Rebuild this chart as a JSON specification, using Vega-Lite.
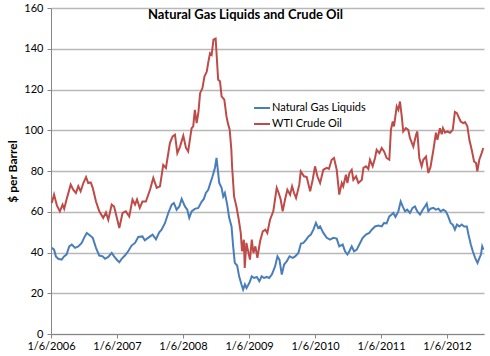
{
  "$schema": "https://vega.github.io/schema/vega-lite/v6.json",
  "width": 433,
  "height": 326,
  "autosize": "none",
  "padding": {"left": 51, "top": 8, "right": 6, "bottom": 22},
  "background": "white",
  "title": {
    "text": "Natural Gas Liquids and Crude Oil",
    "font": "Lato",
    "fontSize": 13,
    "fontWeight": "bold",
    "color": "#000000",
    "anchor": "middle",
    "dx": -22,
    "dy": 17,
    "offset": -16,
    "baseline": "bottom"
  },
  "config": {
    "view": {"stroke": null},
    "font": "Lato"
  },
  "data": {
    "values": [
      {"date": "2006-01-10", "series": "Natural Gas Liquids", "price": 42.3},
      {"date": "2006-01-23", "series": "Natural Gas Liquids", "price": 41.4},
      {"date": "2006-02-02", "series": "Natural Gas Liquids", "price": 38.1},
      {"date": "2006-02-15", "series": "Natural Gas Liquids", "price": 36.9},
      {"date": "2006-03-06", "series": "Natural Gas Liquids", "price": 36.5},
      {"date": "2006-03-19", "series": "Natural Gas Liquids", "price": 38.1},
      {"date": "2006-04-02", "series": "Natural Gas Liquids", "price": 39.0},
      {"date": "2006-04-17", "series": "Natural Gas Liquids", "price": 43.0},
      {"date": "2006-05-01", "series": "Natural Gas Liquids", "price": 43.9},
      {"date": "2006-05-19", "series": "Natural Gas Liquids", "price": 42.3},
      {"date": "2006-06-06", "series": "Natural Gas Liquids", "price": 43.0},
      {"date": "2006-06-25", "series": "Natural Gas Liquids", "price": 44.7},
      {"date": "2006-07-08", "series": "Natural Gas Liquids", "price": 47.2},
      {"date": "2006-07-23", "series": "Natural Gas Liquids", "price": 49.6},
      {"date": "2006-08-10", "series": "Natural Gas Liquids", "price": 48.3},
      {"date": "2006-08-25", "series": "Natural Gas Liquids", "price": 47.2},
      {"date": "2006-09-12", "series": "Natural Gas Liquids", "price": 42.3},
      {"date": "2006-09-30", "series": "Natural Gas Liquids", "price": 38.5},
      {"date": "2006-10-19", "series": "Natural Gas Liquids", "price": 38.1},
      {"date": "2006-11-01", "series": "Natural Gas Liquids", "price": 36.9},
      {"date": "2006-11-19", "series": "Natural Gas Liquids", "price": 37.8},
      {"date": "2006-12-08", "series": "Natural Gas Liquids", "price": 39.8},
      {"date": "2006-12-21", "series": "Natural Gas Liquids", "price": 38.1},
      {"date": "2007-01-08", "series": "Natural Gas Liquids", "price": 36.2},
      {"date": "2007-01-19", "series": "Natural Gas Liquids", "price": 35.2},
      {"date": "2007-02-01", "series": "Natural Gas Liquids", "price": 36.9},
      {"date": "2007-02-19", "series": "Natural Gas Liquids", "price": 38.5},
      {"date": "2007-03-09", "series": "Natural Gas Liquids", "price": 40.6},
      {"date": "2007-03-28", "series": "Natural Gas Liquids", "price": 43.4},
      {"date": "2007-04-16", "series": "Natural Gas Liquids", "price": 44.7},
      {"date": "2007-05-04", "series": "Natural Gas Liquids", "price": 47.6},
      {"date": "2007-05-27", "series": "Natural Gas Liquids", "price": 47.9},
      {"date": "2007-06-09", "series": "Natural Gas Liquids", "price": 46.0},
      {"date": "2007-06-27", "series": "Natural Gas Liquids", "price": 47.2},
      {"date": "2007-07-22", "series": "Natural Gas Liquids", "price": 48.8},
      {"date": "2007-08-10", "series": "Natural Gas Liquids", "price": 46.5},
      {"date": "2007-08-28", "series": "Natural Gas Liquids", "price": 49.9},
      {"date": "2007-09-10", "series": "Natural Gas Liquids", "price": 51.2},
      {"date": "2007-09-29", "series": "Natural Gas Liquids", "price": 54.5},
      {"date": "2007-10-17", "series": "Natural Gas Liquids", "price": 59.4},
      {"date": "2007-11-05", "series": "Natural Gas Liquids", "price": 63.5},
      {"date": "2007-11-17", "series": "Natural Gas Liquids", "price": 64.3},
      {"date": "2007-12-02", "series": "Natural Gas Liquids", "price": 61.0},
      {"date": "2007-12-17", "series": "Natural Gas Liquids", "price": 62.6},
      {"date": "2007-12-30", "series": "Natural Gas Liquids", "price": 66.3},
      {"date": "2008-01-17", "series": "Natural Gas Liquids", "price": 62.6},
      {"date": "2008-01-30", "series": "Natural Gas Liquids", "price": 61.0},
      {"date": "2008-02-10", "series": "Natural Gas Liquids", "price": 57.0},
      {"date": "2008-02-23", "series": "Natural Gas Liquids", "price": 60.2},
      {"date": "2008-03-12", "series": "Natural Gas Liquids", "price": 61.4},
      {"date": "2008-03-31", "series": "Natural Gas Liquids", "price": 61.9},
      {"date": "2008-04-19", "series": "Natural Gas Liquids", "price": 65.0},
      {"date": "2008-05-01", "series": "Natural Gas Liquids", "price": 66.3},
      {"date": "2008-05-12", "series": "Natural Gas Liquids", "price": 69.2},
      {"date": "2008-05-25", "series": "Natural Gas Liquids", "price": 70.8},
      {"date": "2008-06-03", "series": "Natural Gas Liquids", "price": 73.3},
      {"date": "2008-06-18", "series": "Natural Gas Liquids", "price": 77.4},
      {"date": "2008-07-01", "series": "Natural Gas Liquids", "price": 81.5},
      {"date": "2008-07-10", "series": "Natural Gas Liquids", "price": 86.4},
      {"date": "2008-07-25", "series": "Natural Gas Liquids", "price": 74.1},
      {"date": "2008-08-07", "series": "Natural Gas Liquids", "price": 71.7},
      {"date": "2008-08-16", "series": "Natural Gas Liquids", "price": 67.5},
      {"date": "2008-08-25", "series": "Natural Gas Liquids", "price": 69.2},
      {"date": "2008-09-07", "series": "Natural Gas Liquids", "price": 63.5},
      {"date": "2008-09-18", "series": "Natural Gas Liquids", "price": 57.0},
      {"date": "2008-10-01", "series": "Natural Gas Liquids", "price": 52.8},
      {"date": "2008-10-10", "series": "Natural Gas Liquids", "price": 43.0},
      {"date": "2008-10-19", "series": "Natural Gas Liquids", "price": 34.9},
      {"date": "2008-11-01", "series": "Natural Gas Liquids", "price": 33.6},
      {"date": "2008-11-12", "series": "Natural Gas Liquids", "price": 28.3},
      {"date": "2008-11-25", "series": "Natural Gas Liquids", "price": 24.3},
      {"date": "2008-12-04", "series": "Natural Gas Liquids", "price": 21.8},
      {"date": "2008-12-14", "series": "Natural Gas Liquids", "price": 24.3},
      {"date": "2008-12-23", "series": "Natural Gas Liquids", "price": 22.6},
      {"date": "2009-01-08", "series": "Natural Gas Liquids", "price": 25.1},
      {"date": "2009-01-21", "series": "Natural Gas Liquids", "price": 28.3},
      {"date": "2009-02-03", "series": "Natural Gas Liquids", "price": 27.5},
      {"date": "2009-02-18", "series": "Natural Gas Liquids", "price": 28.0},
      {"date": "2009-03-04", "series": "Natural Gas Liquids", "price": 25.9},
      {"date": "2009-03-17", "series": "Natural Gas Liquids", "price": 28.3},
      {"date": "2009-03-30", "series": "Natural Gas Liquids", "price": 27.5},
      {"date": "2009-04-14", "series": "Natural Gas Liquids", "price": 28.0},
      {"date": "2009-04-27", "series": "Natural Gas Liquids", "price": 27.5},
      {"date": "2009-05-12", "series": "Natural Gas Liquids", "price": 29.2},
      {"date": "2009-05-30", "series": "Natural Gas Liquids", "price": 33.2},
      {"date": "2009-06-12", "series": "Natural Gas Liquids", "price": 38.1},
      {"date": "2009-06-23", "series": "Natural Gas Liquids", "price": 36.5},
      {"date": "2009-07-06", "series": "Natural Gas Liquids", "price": 29.2},
      {"date": "2009-07-19", "series": "Natural Gas Liquids", "price": 34.1},
      {"date": "2009-08-03", "series": "Natural Gas Liquids", "price": 35.7},
      {"date": "2009-08-18", "series": "Natural Gas Liquids", "price": 38.1},
      {"date": "2009-09-05", "series": "Natural Gas Liquids", "price": 37.4},
      {"date": "2009-09-18", "series": "Natural Gas Liquids", "price": 38.1},
      {"date": "2009-10-06", "series": "Natural Gas Liquids", "price": 39.8},
      {"date": "2009-10-20", "series": "Natural Gas Liquids", "price": 44.4},
      {"date": "2009-11-03", "series": "Natural Gas Liquids", "price": 44.7},
      {"date": "2009-11-18", "series": "Natural Gas Liquids", "price": 46.3},
      {"date": "2009-12-01", "series": "Natural Gas Liquids", "price": 47.9},
      {"date": "2009-12-14", "series": "Natural Gas Liquids", "price": 48.8},
      {"date": "2009-12-28", "series": "Natural Gas Liquids", "price": 51.2},
      {"date": "2010-01-11", "series": "Natural Gas Liquids", "price": 54.5},
      {"date": "2010-01-24", "series": "Natural Gas Liquids", "price": 52.0},
      {"date": "2010-02-03", "series": "Natural Gas Liquids", "price": 52.8},
      {"date": "2010-02-21", "series": "Natural Gas Liquids", "price": 49.6},
      {"date": "2010-03-12", "series": "Natural Gas Liquids", "price": 47.2},
      {"date": "2010-03-30", "series": "Natural Gas Liquids", "price": 46.3},
      {"date": "2010-04-17", "series": "Natural Gas Liquids", "price": 47.2},
      {"date": "2010-05-06", "series": "Natural Gas Liquids", "price": 46.8},
      {"date": "2010-05-20", "series": "Natural Gas Liquids", "price": 43.0},
      {"date": "2010-06-08", "series": "Natural Gas Liquids", "price": 43.9},
      {"date": "2010-06-21", "series": "Natural Gas Liquids", "price": 40.6},
      {"date": "2010-07-04", "series": "Natural Gas Liquids", "price": 39.0},
      {"date": "2010-07-15", "series": "Natural Gas Liquids", "price": 40.6},
      {"date": "2010-07-28", "series": "Natural Gas Liquids", "price": 43.0},
      {"date": "2010-08-10", "series": "Natural Gas Liquids", "price": 40.6},
      {"date": "2010-08-25", "series": "Natural Gas Liquids", "price": 41.4},
      {"date": "2010-09-08", "series": "Natural Gas Liquids", "price": 43.9},
      {"date": "2010-09-27", "series": "Natural Gas Liquids", "price": 47.2},
      {"date": "2010-10-15", "series": "Natural Gas Liquids", "price": 48.8},
      {"date": "2010-11-02", "series": "Natural Gas Liquids", "price": 49.6},
      {"date": "2010-11-16", "series": "Natural Gas Liquids", "price": 51.2},
      {"date": "2010-12-04", "series": "Natural Gas Liquids", "price": 52.8},
      {"date": "2010-12-22", "series": "Natural Gas Liquids", "price": 53.2},
      {"date": "2011-01-10", "series": "Natural Gas Liquids", "price": 52.8},
      {"date": "2011-01-23", "series": "Natural Gas Liquids", "price": 54.5},
      {"date": "2011-02-06", "series": "Natural Gas Liquids", "price": 54.3},
      {"date": "2011-02-21", "series": "Natural Gas Liquids", "price": 57.7},
      {"date": "2011-03-06", "series": "Natural Gas Liquids", "price": 58.6},
      {"date": "2011-03-15", "series": "Natural Gas Liquids", "price": 59.4},
      {"date": "2011-03-27", "series": "Natural Gas Liquids", "price": 57.5},
      {"date": "2011-04-12", "series": "Natural Gas Liquids", "price": 60.2},
      {"date": "2011-04-25", "series": "Natural Gas Liquids", "price": 65.0},
      {"date": "2011-05-06", "series": "Natural Gas Liquids", "price": 62.6},
      {"date": "2011-05-19", "series": "Natural Gas Liquids", "price": 60.2},
      {"date": "2011-05-31", "series": "Natural Gas Liquids", "price": 61.0},
      {"date": "2011-06-15", "series": "Natural Gas Liquids", "price": 59.4},
      {"date": "2011-06-30", "series": "Natural Gas Liquids", "price": 61.9},
      {"date": "2011-07-13", "series": "Natural Gas Liquids", "price": 62.6},
      {"date": "2011-07-26", "series": "Natural Gas Liquids", "price": 60.2},
      {"date": "2011-08-10", "series": "Natural Gas Liquids", "price": 58.6},
      {"date": "2011-08-25", "series": "Natural Gas Liquids", "price": 61.0},
      {"date": "2011-09-06", "series": "Natural Gas Liquids", "price": 62.6},
      {"date": "2011-09-16", "series": "Natural Gas Liquids", "price": 64.0},
      {"date": "2011-09-25", "series": "Natural Gas Liquids", "price": 60.2},
      {"date": "2011-10-07", "series": "Natural Gas Liquids", "price": 61.5},
      {"date": "2011-10-23", "series": "Natural Gas Liquids", "price": 61.9},
      {"date": "2011-11-06", "series": "Natural Gas Liquids", "price": 61.0},
      {"date": "2011-11-20", "series": "Natural Gas Liquids", "price": 61.5},
      {"date": "2011-12-02", "series": "Natural Gas Liquids", "price": 60.2},
      {"date": "2011-12-17", "series": "Natural Gas Liquids", "price": 61.0},
      {"date": "2011-12-31", "series": "Natural Gas Liquids", "price": 60.2},
      {"date": "2012-01-13", "series": "Natural Gas Liquids", "price": 57.7},
      {"date": "2012-01-26", "series": "Natural Gas Liquids", "price": 54.5},
      {"date": "2012-02-07", "series": "Natural Gas Liquids", "price": 53.7},
      {"date": "2012-02-19", "series": "Natural Gas Liquids", "price": 51.2},
      {"date": "2012-03-01", "series": "Natural Gas Liquids", "price": 53.7},
      {"date": "2012-03-15", "series": "Natural Gas Liquids", "price": 52.8},
      {"date": "2012-03-28", "series": "Natural Gas Liquids", "price": 53.7},
      {"date": "2012-04-10", "series": "Natural Gas Liquids", "price": 52.8},
      {"date": "2012-04-25", "series": "Natural Gas Liquids", "price": 52.8},
      {"date": "2012-05-04", "series": "Natural Gas Liquids", "price": 48.8},
      {"date": "2012-05-17", "series": "Natural Gas Liquids", "price": 43.9},
      {"date": "2012-05-28", "series": "Natural Gas Liquids", "price": 40.6},
      {"date": "2012-06-10", "series": "Natural Gas Liquids", "price": 37.4},
      {"date": "2012-06-23", "series": "Natural Gas Liquids", "price": 34.9},
      {"date": "2012-07-04", "series": "Natural Gas Liquids", "price": 37.4},
      {"date": "2012-07-12", "series": "Natural Gas Liquids", "price": 39.0},
      {"date": "2012-07-19", "series": "Natural Gas Liquids", "price": 43.0},
      {"date": "2012-07-26", "series": "Natural Gas Liquids", "price": 41.4},
      {"date": "2006-01-10", "series": "WTI Crude Oil", "price": 64.3},
      {"date": "2006-01-23", "series": "WTI Crude Oil", "price": 68.4},
      {"date": "2006-02-08", "series": "WTI Crude Oil", "price": 63.0},
      {"date": "2006-02-24", "series": "WTI Crude Oil", "price": 60.2},
      {"date": "2006-03-11", "series": "WTI Crude Oil", "price": 63.5},
      {"date": "2006-03-20", "series": "WTI Crude Oil", "price": 61.5},
      {"date": "2006-04-02", "series": "WTI Crude Oil", "price": 66.0},
      {"date": "2006-04-25", "series": "WTI Crude Oil", "price": 73.3},
      {"date": "2006-05-09", "series": "WTI Crude Oil", "price": 70.8},
      {"date": "2006-05-24", "series": "WTI Crude Oil", "price": 69.2},
      {"date": "2006-06-06", "series": "WTI Crude Oil", "price": 72.5},
      {"date": "2006-06-19", "series": "WTI Crude Oil", "price": 70.0},
      {"date": "2006-07-04", "series": "WTI Crude Oil", "price": 74.1},
      {"date": "2006-07-19", "series": "WTI Crude Oil", "price": 77.0},
      {"date": "2006-07-31", "series": "WTI Crude Oil", "price": 74.1},
      {"date": "2006-08-14", "series": "WTI Crude Oil", "price": 74.4},
      {"date": "2006-08-25", "series": "WTI Crude Oil", "price": 71.7},
      {"date": "2006-09-12", "series": "WTI Crude Oil", "price": 65.0},
      {"date": "2006-09-30", "series": "WTI Crude Oil", "price": 60.2},
      {"date": "2006-10-22", "series": "WTI Crude Oil", "price": 57.0},
      {"date": "2006-11-06", "series": "WTI Crude Oil", "price": 59.7},
      {"date": "2006-11-19", "series": "WTI Crude Oil", "price": 56.1},
      {"date": "2006-12-08", "series": "WTI Crude Oil", "price": 63.5},
      {"date": "2006-12-21", "series": "WTI Crude Oil", "price": 62.6},
      {"date": "2007-01-01", "series": "WTI Crude Oil", "price": 58.6},
      {"date": "2007-01-19", "series": "WTI Crude Oil", "price": 52.0},
      {"date": "2007-02-06", "series": "WTI Crude Oil", "price": 59.4},
      {"date": "2007-02-24", "series": "WTI Crude Oil", "price": 60.2},
      {"date": "2007-03-15", "series": "WTI Crude Oil", "price": 57.7},
      {"date": "2007-04-02", "series": "WTI Crude Oil", "price": 66.0},
      {"date": "2007-04-16", "series": "WTI Crude Oil", "price": 63.5},
      {"date": "2007-04-27", "series": "WTI Crude Oil", "price": 66.0},
      {"date": "2007-05-12", "series": "WTI Crude Oil", "price": 61.9},
      {"date": "2007-05-27", "series": "WTI Crude Oil", "price": 65.0},
      {"date": "2007-06-15", "series": "WTI Crude Oil", "price": 65.0},
      {"date": "2007-07-08", "series": "WTI Crude Oil", "price": 70.8},
      {"date": "2007-07-26", "series": "WTI Crude Oil", "price": 76.6},
      {"date": "2007-08-14", "series": "WTI Crude Oil", "price": 71.7},
      {"date": "2007-09-01", "series": "WTI Crude Oil", "price": 72.5},
      {"date": "2007-09-19", "series": "WTI Crude Oil", "price": 83.0},
      {"date": "2007-10-04", "series": "WTI Crude Oil", "price": 81.5},
      {"date": "2007-10-26", "series": "WTI Crude Oil", "price": 93.7},
      {"date": "2007-11-10", "series": "WTI Crude Oil", "price": 97.0},
      {"date": "2007-11-23", "series": "WTI Crude Oil", "price": 97.8},
      {"date": "2007-12-06", "series": "WTI Crude Oil", "price": 88.8},
      {"date": "2007-12-21", "series": "WTI Crude Oil", "price": 92.0},
      {"date": "2008-01-08", "series": "WTI Crude Oil", "price": 97.3},
      {"date": "2008-01-23", "series": "WTI Crude Oil", "price": 91.3},
      {"date": "2008-02-04", "series": "WTI Crude Oil", "price": 89.6},
      {"date": "2008-02-23", "series": "WTI Crude Oil", "price": 101.0},
      {"date": "2008-03-03", "series": "WTI Crude Oil", "price": 101.9},
      {"date": "2008-03-12", "series": "WTI Crude Oil", "price": 110.0},
      {"date": "2008-03-22", "series": "WTI Crude Oil", "price": 103.5},
      {"date": "2008-04-01", "series": "WTI Crude Oil", "price": 109.0},
      {"date": "2008-04-10", "series": "WTI Crude Oil", "price": 118.2},
      {"date": "2008-04-23", "series": "WTI Crude Oil", "price": 120.7},
      {"date": "2008-05-04", "series": "WTI Crude Oil", "price": 126.4},
      {"date": "2008-05-17", "series": "WTI Crude Oil", "price": 128.8},
      {"date": "2008-05-26", "series": "WTI Crude Oil", "price": 133.7},
      {"date": "2008-06-04", "series": "WTI Crude Oil", "price": 137.8},
      {"date": "2008-06-13", "series": "WTI Crude Oil", "price": 137.0},
      {"date": "2008-06-23", "series": "WTI Crude Oil", "price": 144.5},
      {"date": "2008-07-05", "series": "WTI Crude Oil", "price": 145.0},
      {"date": "2008-07-19", "series": "WTI Crude Oil", "price": 124.8},
      {"date": "2008-07-29", "series": "WTI Crude Oil", "price": 124.0},
      {"date": "2008-08-07", "series": "WTI Crude Oil", "price": 116.6},
      {"date": "2008-08-22", "series": "WTI Crude Oil", "price": 115.0},
      {"date": "2008-09-03", "series": "WTI Crude Oil", "price": 106.8},
      {"date": "2008-09-12", "series": "WTI Crude Oil", "price": 103.0},
      {"date": "2008-09-21", "series": "WTI Crude Oil", "price": 100.2},
      {"date": "2008-09-30", "series": "WTI Crude Oil", "price": 90.4},
      {"date": "2008-10-04", "series": "WTI Crude Oil", "price": 82.3},
      {"date": "2008-10-15", "series": "WTI Crude Oil", "price": 67.5},
      {"date": "2008-10-28", "series": "WTI Crude Oil", "price": 62.6},
      {"date": "2008-11-10", "series": "WTI Crude Oil", "price": 56.1},
      {"date": "2008-11-21", "series": "WTI Crude Oil", "price": 49.6},
      {"date": "2008-11-28", "series": "WTI Crude Oil", "price": 40.6},
      {"date": "2008-12-08", "series": "WTI Crude Oil", "price": 46.3},
      {"date": "2008-12-13", "series": "WTI Crude Oil", "price": 32.4},
      {"date": "2008-12-22", "series": "WTI Crude Oil", "price": 44.7},
      {"date": "2009-01-11", "series": "WTI Crude Oil", "price": 36.5},
      {"date": "2009-01-21", "series": "WTI Crude Oil", "price": 46.3},
      {"date": "2009-01-30", "series": "WTI Crude Oil", "price": 39.8},
      {"date": "2009-02-10", "series": "WTI Crude Oil", "price": 43.0},
      {"date": "2009-02-21", "series": "WTI Crude Oil", "price": 37.4},
      {"date": "2009-03-08", "series": "WTI Crude Oil", "price": 45.5},
      {"date": "2009-03-23", "series": "WTI Crude Oil", "price": 50.4},
      {"date": "2009-04-06", "series": "WTI Crude Oil", "price": 51.2},
      {"date": "2009-04-17", "series": "WTI Crude Oil", "price": 49.6},
      {"date": "2009-05-02", "series": "WTI Crude Oil", "price": 56.1},
      {"date": "2009-05-20", "series": "WTI Crude Oil", "price": 60.2},
      {"date": "2009-06-08", "series": "WTI Crude Oil", "price": 71.7},
      {"date": "2009-06-19", "series": "WTI Crude Oil", "price": 69.2},
      {"date": "2009-06-30", "series": "WTI Crude Oil", "price": 66.0},
      {"date": "2009-07-11", "series": "WTI Crude Oil", "price": 60.2},
      {"date": "2009-07-24", "series": "WTI Crude Oil", "price": 66.0},
      {"date": "2009-08-06", "series": "WTI Crude Oil", "price": 70.8},
      {"date": "2009-08-21", "series": "WTI Crude Oil", "price": 68.4},
      {"date": "2009-09-01", "series": "WTI Crude Oil", "price": 72.5},
      {"date": "2009-09-12", "series": "WTI Crude Oil", "price": 69.2},
      {"date": "2009-09-23", "series": "WTI Crude Oil", "price": 66.8},
      {"date": "2009-10-11", "series": "WTI Crude Oil", "price": 73.3},
      {"date": "2009-10-19", "series": "WTI Crude Oil", "price": 79.8},
      {"date": "2009-11-06", "series": "WTI Crude Oil", "price": 77.4},
      {"date": "2009-11-21", "series": "WTI Crude Oil", "price": 77.0},
      {"date": "2009-12-10", "series": "WTI Crude Oil", "price": 70.0},
      {"date": "2009-12-24", "series": "WTI Crude Oil", "price": 75.7},
      {"date": "2010-01-06", "series": "WTI Crude Oil", "price": 82.3},
      {"date": "2010-01-19", "series": "WTI Crude Oil", "price": 77.4},
      {"date": "2010-02-03", "series": "WTI Crude Oil", "price": 74.1},
      {"date": "2010-02-21", "series": "WTI Crude Oil", "price": 80.6},
      {"date": "2010-03-12", "series": "WTI Crude Oil", "price": 81.5},
      {"date": "2010-03-24", "series": "WTI Crude Oil", "price": 81.0},
      {"date": "2010-04-08", "series": "WTI Crude Oil", "price": 85.5},
      {"date": "2010-04-21", "series": "WTI Crude Oil", "price": 86.4},
      {"date": "2010-05-06", "series": "WTI Crude Oil", "price": 80.6},
      {"date": "2010-05-20", "series": "WTI Crude Oil", "price": 68.4},
      {"date": "2010-06-03", "series": "WTI Crude Oil", "price": 74.1},
      {"date": "2010-06-11", "series": "WTI Crude Oil", "price": 72.5},
      {"date": "2010-06-26", "series": "WTI Crude Oil", "price": 78.2},
      {"date": "2010-07-04", "series": "WTI Crude Oil", "price": 74.1},
      {"date": "2010-07-15", "series": "WTI Crude Oil", "price": 79.0},
      {"date": "2010-07-28", "series": "WTI Crude Oil", "price": 80.6},
      {"date": "2010-08-06", "series": "WTI Crude Oil", "price": 75.7},
      {"date": "2010-08-21", "series": "WTI Crude Oil", "price": 77.4},
      {"date": "2010-09-03", "series": "WTI Crude Oil", "price": 74.1},
      {"date": "2010-09-22", "series": "WTI Crude Oil", "price": 75.7},
      {"date": "2010-10-01", "series": "WTI Crude Oil", "price": 81.5},
      {"date": "2010-10-15", "series": "WTI Crude Oil", "price": 82.3},
      {"date": "2010-10-28", "series": "WTI Crude Oil", "price": 81.0},
      {"date": "2010-11-06", "series": "WTI Crude Oil", "price": 85.5},
      {"date": "2010-11-21", "series": "WTI Crude Oil", "price": 82.3},
      {"date": "2010-12-04", "series": "WTI Crude Oil", "price": 86.4},
      {"date": "2010-12-13", "series": "WTI Crude Oil", "price": 90.4},
      {"date": "2010-12-28", "series": "WTI Crude Oil", "price": 88.8},
      {"date": "2011-01-10", "series": "WTI Crude Oil", "price": 91.3},
      {"date": "2011-01-23", "series": "WTI Crude Oil", "price": 89.6},
      {"date": "2011-02-06", "series": "WTI Crude Oil", "price": 86.4},
      {"date": "2011-02-21", "series": "WTI Crude Oil", "price": 85.5},
      {"date": "2011-03-02", "series": "WTI Crude Oil", "price": 100.2},
      {"date": "2011-03-12", "series": "WTI Crude Oil", "price": 104.3},
      {"date": "2011-03-19", "series": "WTI Crude Oil", "price": 101.9},
      {"date": "2011-04-03", "series": "WTI Crude Oil", "price": 111.7},
      {"date": "2011-04-12", "series": "WTI Crude Oil", "price": 110.0},
      {"date": "2011-04-21", "series": "WTI Crude Oil", "price": 114.1},
      {"date": "2011-05-01", "series": "WTI Crude Oil", "price": 106.8},
      {"date": "2011-05-09", "series": "WTI Crude Oil", "price": 99.4},
      {"date": "2011-05-24", "series": "WTI Crude Oil", "price": 101.0},
      {"date": "2011-06-06", "series": "WTI Crude Oil", "price": 100.2},
      {"date": "2011-06-15", "series": "WTI Crude Oil", "price": 96.2},
      {"date": "2011-07-04", "series": "WTI Crude Oil", "price": 92.0},
      {"date": "2011-07-19", "series": "WTI Crude Oil", "price": 97.8},
      {"date": "2011-07-26", "series": "WTI Crude Oil", "price": 99.4},
      {"date": "2011-08-06", "series": "WTI Crude Oil", "price": 86.4},
      {"date": "2011-08-19", "series": "WTI Crude Oil", "price": 82.3},
      {"date": "2011-08-28", "series": "WTI Crude Oil", "price": 85.5},
      {"date": "2011-09-12", "series": "WTI Crude Oil", "price": 87.1},
      {"date": "2011-09-25", "series": "WTI Crude Oil", "price": 79.0},
      {"date": "2011-10-07", "series": "WTI Crude Oil", "price": 82.0},
      {"date": "2011-10-23", "series": "WTI Crude Oil", "price": 90.4},
      {"date": "2011-11-06", "series": "WTI Crude Oil", "price": 98.8},
      {"date": "2011-11-14", "series": "WTI Crude Oil", "price": 95.3},
      {"date": "2011-11-28", "series": "WTI Crude Oil", "price": 101.0},
      {"date": "2011-12-08", "series": "WTI Crude Oil", "price": 98.0},
      {"date": "2011-12-15", "series": "WTI Crude Oil", "price": 101.0},
      {"date": "2011-12-26", "series": "WTI Crude Oil", "price": 98.8},
      {"date": "2012-01-08", "series": "WTI Crude Oil", "price": 99.4},
      {"date": "2012-01-23", "series": "WTI Crude Oil", "price": 98.8},
      {"date": "2012-02-07", "series": "WTI Crude Oil", "price": 100.2},
      {"date": "2012-02-19", "series": "WTI Crude Oil", "price": 109.0},
      {"date": "2012-03-01", "series": "WTI Crude Oil", "price": 108.4},
      {"date": "2012-03-09", "series": "WTI Crude Oil", "price": 106.8},
      {"date": "2012-03-22", "series": "WTI Crude Oil", "price": 104.3},
      {"date": "2012-04-05", "series": "WTI Crude Oil", "price": 103.5},
      {"date": "2012-04-15", "series": "WTI Crude Oil", "price": 104.0},
      {"date": "2012-04-28", "series": "WTI Crude Oil", "price": 101.9},
      {"date": "2012-05-09", "series": "WTI Crude Oil", "price": 95.3},
      {"date": "2012-05-22", "series": "WTI Crude Oil", "price": 90.4},
      {"date": "2012-06-04", "series": "WTI Crude Oil", "price": 84.7},
      {"date": "2012-06-15", "series": "WTI Crude Oil", "price": 83.9},
      {"date": "2012-06-22", "series": "WTI Crude Oil", "price": 79.8},
      {"date": "2012-07-03", "series": "WTI Crude Oil", "price": 85.5},
      {"date": "2012-07-16", "series": "WTI Crude Oil", "price": 88.8},
      {"date": "2012-07-25", "series": "WTI Crude Oil", "price": 91.3}
    ]
  },
  "mark": {"type": "line", "strokeWidth": 2, "interpolate": "linear"},
  "encoding": {
    "x": {
      "field": "date",
      "type": "temporal",
      "scale": {
        "type": "utc",
        "domain": [{"year": 2006, "month": 1, "date": 6, "utc": true}, {"year": 2012, "month": 7, "date": 29, "utc": true}]
      },
      "axis": {
        "title": null,
        "values": [
          {"year": 2006, "month": 1, "date": 6, "utc": true},
          {"year": 2007, "month": 1, "date": 6, "utc": true},
          {"year": 2008, "month": 1, "date": 6, "utc": true},
          {"year": 2009, "month": 1, "date": 6, "utc": true},
          {"year": 2010, "month": 1, "date": 6, "utc": true},
          {"year": 2011, "month": 1, "date": 6, "utc": true},
          {"year": 2012, "month": 1, "date": 6, "utc": true}
        ],
        "format": "%-m/%-d/%Y",
        "grid": false,
        "domainColor": "#868686",
        "tickColor": "#868686",
        "tickSize": 4,
        "labelPadding": 2,
        "labelFont": "Lato",
        "labelFontSize": 11,
        "labelColor": "#000000",
        "labelFlush": false,
        "labelOverlap": false
      }
    },
    "y": {
      "field": "price",
      "type": "quantitative",
      "scale": {"domain": [0, 160], "nice": false},
      "axis": {
        "title": "$ per Barrel",
        "titleFont": "Lato",
        "titleFontSize": 12,
        "titleFontWeight": "bold",
        "titleColor": "#000000",
        "titlePadding": 4,
        "values": [0, 20, 40, 60, 80, 100, 120, 140, 160],
        "grid": true,
        "gridColor": "#B8B8B8",
        "gridWidth": 1.3,
        "domainColor": "#868686",
        "tickColor": "#868686",
        "tickSize": 4,
        "labelPadding": 4,
        "labelFont": "Lato",
        "labelFontSize": 11,
        "labelColor": "#000000"
      }
    },
    "color": {
      "field": "series",
      "type": "nominal",
      "scale": {"domain": ["Natural Gas Liquids", "WTI Crude Oil"], "range": ["#4A7EBB", "#BE4B48"]},
      "legend": {
        "title": null,
        "orient": "none",
        "legendX": 202,
        "legendY": 91,
        "symbolType": "stroke",
        "symbolSize": 256,
        "symbolStrokeWidth": 2,
        "labelOffset": 1,
        "labelFont": "Lato",
        "labelFontSize": 11,
        "labelColor": "#000000",
        "rowPadding": 2
      }
    }
  }
}
